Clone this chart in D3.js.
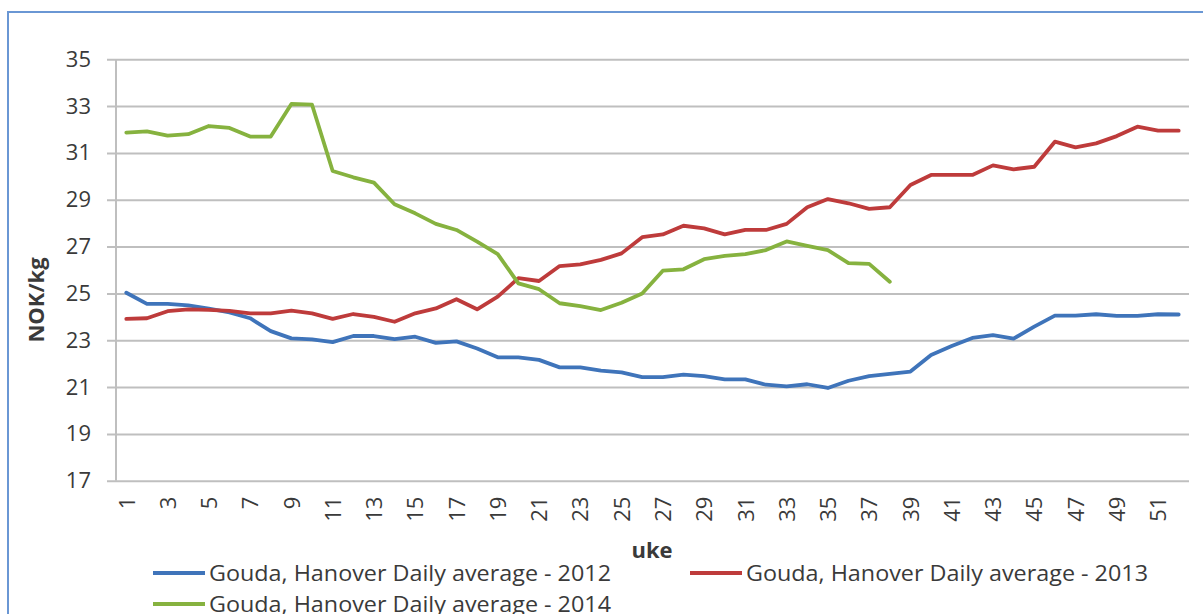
<!DOCTYPE html>
<html>
<head>
<meta charset="utf-8">
<script src="https://cdn.jsdelivr.net/npm/d3@7"></script>
<style>
  body { margin: 0; background: #fff; }
  svg text { font-family: "Open Sans", sans-serif; fill: #3a3a3a; }
</style>
</head>
<body>
<svg id="chart" width="1203" height="614"></svg>
<script>
var weeks = d3.range(1, 53);
var yTicks = [17, 19, 21, 23, 25, 27, 29, 31, 33, 35];
var xTickLabels = weeks.filter(function(w) { return w % 2 == 1; });

var price2012 = [25.03, 24.55, 24.55, 24.49, 24.35, 24.19, 23.94, 23.39, 23.08, 23.04,
  22.92, 23.18, 23.18, 23.05, 23.15, 22.89, 22.95, 22.65, 22.27, 22.27,
  22.16, 21.84, 21.84, 21.70, 21.63, 21.42, 21.42, 21.53, 21.47, 21.33,
  21.33, 21.10, 21.03, 21.12, 20.96, 21.27, 21.47, 21.56, 21.66, 22.37,
  22.75, 23.10, 23.22, 23.07, 23.58, 24.05, 24.05, 24.11, 24.04, 24.04,
  24.11, 24.10];
var price2013 = [23.91, 23.94, 24.24, 24.32, 24.30, 24.25, 24.15, 24.15, 24.26, 24.15,
  23.91, 24.12, 24.00, 23.79, 24.15, 24.36, 24.75, 24.32, 24.86, 25.65,
  25.53, 26.17, 26.24, 26.43, 26.71, 27.40, 27.52, 27.89, 27.78, 27.52,
  27.71, 27.71, 27.97, 28.68, 29.03, 28.85, 28.61, 28.68, 29.63, 30.06,
  30.06, 30.06, 30.47, 30.30, 30.41, 31.48, 31.24, 31.41, 31.72, 32.12,
  31.95, 31.95];
var price2014 = [31.87, 31.92, 31.74, 31.80, 32.15, 32.07, 31.70, 31.70, 33.09, 33.06,
  30.23, 29.96, 29.73, 28.81, 28.42, 27.97, 27.71, 27.21, 26.68, 25.43,
  25.18, 24.58, 24.46, 24.29, 24.60, 25.00, 25.97, 26.03, 26.46, 26.60,
  26.68, 26.85, 27.22, 27.03, 26.85, 26.29, 26.26, 25.50];

var seriesNames = ["Gouda, Hanover Daily average - 2012", "Gouda, Hanover Daily average - 2013", "Gouda, Hanover Daily average - 2014"];
var seriesColors = ["#3f74ba", "#be3b3b", "#86b23f"];

var series = [
  { name: seriesNames[0], color: seriesColors[0], values: price2012 },
  { name: seriesNames[1], color: seriesColors[1], values: price2013 },
  { name: seriesNames[2], color: seriesColors[2], values: price2014 }
];

var svg = d3.select("#chart");
var plotLeft = 116, plotRight = 1189, plotTop = 59.3, plotBottom = 480.7;

// outer chart frame (runs off the picture on the right and bottom)
svg.append("rect")
  .attr("x", 8).attr("y", 12)
  .attr("width", 1210).attr("height", 620)
  .attr("fill", "none")
  .attr("stroke", "#6a97d4")
  .attr("stroke-width", 2);

var x = d3.scalePoint().domain(weeks).range([plotLeft, plotRight]).padding(0.5);
var y = d3.scaleLinear().domain([17, 35]).range([plotBottom, plotTop]);

// gridlines + y labels
var yAxis = d3.axisLeft(y).tickValues(yTicks).tickSize(-(plotRight - plotLeft) - 9);
var gy = svg.append("g")
  .attr("transform", "translate(" + plotLeft + ",0)")
  .call(yAxis);
gy.select(".domain").remove();
gy.selectAll(".tick line")
  .attr("x1", -9)
  .attr("x2", plotRight - plotLeft)
  .attr("stroke", "#bfbfbf")
  .attr("stroke-width", 2);
gy.selectAll(".tick text")
  .attr("x", -25)
  .style("font-size", "22px")
  .style("font-family", "Open Sans, sans-serif")
  .attr("fill", "#3a3a3a");

svg.append("line")
  .attr("x1", plotLeft).attr("x2", plotLeft)
  .attr("y1", plotTop).attr("y2", plotBottom)
  .attr("stroke", "#bfbfbf")
  .attr("stroke-width", 2);

// x labels (odd weeks, rotated)
var xAxis = d3.axisBottom(x).tickValues(xTickLabels).tickSize(0);
var gx = svg.append("g")
  .attr("transform", "translate(0," + plotBottom + ")")
  .call(xAxis);
gx.select(".domain").remove();
gx.selectAll(".tick text")
  .attr("transform", "rotate(-90)")
  .attr("x", -16)
  .attr("y", 0)
  .attr("dy", "0.35em")
  .style("text-anchor", "end")
  .style("font-size", "22px")
  .style("font-family", "Open Sans, sans-serif")
  .attr("fill", "#3a3a3a");

// lines
var line = d3.line()
  .x(function(d, i) { return x(weeks[i]); })
  .y(function(d) { return y(d); });

svg.selectAll(".series")
  .data(series)
  .enter().append("path")
  .attr("class", "series")
  .attr("d", function(s) { return line(s.values); })
  .attr("fill", "none")
  .attr("stroke", function(s) { return s.color; })
  .attr("stroke-width", 3.8)
  .attr("stroke-linejoin", "round")
  .attr("stroke-linecap", "round");

// axis titles
svg.append("text")
  .attr("x", 652).attr("y", 558)
  .attr("text-anchor", "middle")
  .style("font-size", "22px")
  .style("font-weight", "bold")
  .text("uke");

svg.append("text")
  .attr("transform", "translate(44,300) rotate(-90)")
  .attr("text-anchor", "middle")
  .style("font-size", "22px")
  .style("font-weight", "bold")
  .text("NOK/kg");

// legend
var legendPos = [[153, 573], [690, 573], [153, 604]];
var legend = svg.selectAll(".legend")
  .data(series)
  .enter().append("g")
  .attr("class", "legend")
  .attr("transform", function(s, i) { return "translate(" + legendPos[i][0] + "," + legendPos[i][1] + ")"; });

legend.append("line")
  .attr("x1", 0).attr("x2", 52)
  .attr("stroke", function(s) { return s.color; })
  .attr("stroke-width", 3.8);

legend.append("text")
  .attr("x", 56)
  .attr("dy", "0.36em")
  .attr("textLength", 402)
  .attr("lengthAdjust", "spacingAndGlyphs")
  .style("font-size", "22px")
  .text(function(s) { return s.name; });
</script>
</body>
</html>
